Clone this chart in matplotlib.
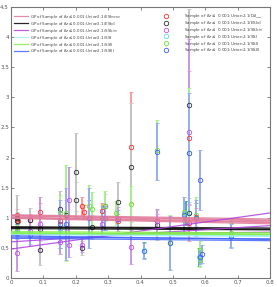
import numpy as np
import matplotlib
matplotlib.use('Agg')
import matplotlib.pyplot as plt

# ---- data ----
z_red = [0.018, 0.02, 0.022, 0.06, 0.09, 0.15, 0.22, 0.225, 0.28, 0.33, 0.37, 0.45, 0.55, 0.55, 0.57]
v_red = [1.05, 0.98, 0.95, 0.96, 1.1, 0.95, 1.2, 1.1, 1.12, 0.95, 2.17, 0.95, 2.33, 0.92, 1.02]
e_red = [0.1, 0.08, 0.1, 0.1, 0.15, 0.12, 0.15, 0.12, 0.12, 0.12, 0.92, 0.12, 1.1, 0.3, 0.15]

z_blk = [0.018, 0.02, 0.06, 0.09, 0.09, 0.15, 0.17, 0.2, 0.2, 0.22, 0.25, 0.29, 0.33, 0.37, 0.45, 0.55, 0.55]
v_blk = [1.0, 0.95, 0.97, 0.82, 0.47, 1.15, 1.05, 1.76, 1.3, 0.5, 0.85, 1.2, 1.27, 1.85, 0.88, 2.87, 1.08]
e_blk = [0.38, 0.15, 0.2, 0.2, 0.25, 0.3, 0.25, 0.65, 0.3, 0.12, 0.2, 0.2, 0.33, 1.05, 0.25, 1.6, 0.25]

z_pur = [0.02, 0.06, 0.09, 0.15, 0.18, 0.18, 0.22, 0.28, 0.33, 0.37, 0.45, 0.55]
v_pur = [0.42, 0.78, 0.9, 0.6, 1.3, 0.55, 0.55, 0.9, 0.98, 0.52, 0.95, 2.42]
e_pur = [0.3, 0.25, 0.45, 0.2, 0.55, 0.2, 0.12, 0.2, 0.2, 0.28, 0.2, 1.55]

z_cyn = [0.02, 0.15, 0.24, 0.29, 0.41, 0.54, 0.57, 0.58, 0.68]
v_cyn = [0.8, 0.8, 1.0, 1.0, 0.47, 1.08, 1.0, 0.35, 0.72]
e_cyn = [0.1, 0.3, 0.3, 0.2, 0.13, 0.2, 0.25, 0.15, 0.2]

z_grn = [0.02, 0.15, 0.17, 0.24, 0.25, 0.29, 0.325, 0.37, 0.45, 0.49, 0.535, 0.55, 0.57, 0.585, 0.585, 0.68]
v_grn = [0.78, 1.08, 1.08, 1.2, 1.15, 1.2, 1.08, 1.23, 2.13, 0.6, 1.1, 2.08, 1.05, 0.47, 0.3, 0.74]
e_grn = [0.1, 0.3, 0.8, 0.35, 0.28, 0.25, 0.2, 0.3, 0.5, 0.45, 0.25, 1.07, 0.3, 0.15, 0.12, 0.22]

z_blu = [0.02, 0.06, 0.15, 0.17, 0.24, 0.28, 0.29, 0.33, 0.41, 0.45, 0.49, 0.535, 0.55, 0.57, 0.585, 0.585, 0.59, 0.68]
v_blu = [0.75, 0.72, 0.9, 0.9, 1.0, 1.0, 1.0, 0.98, 0.45, 2.1, 0.58, 1.05, 2.07, 1.0, 1.63, 0.35, 0.4, 0.7]
e_blu = [0.1, 0.15, 0.4, 0.6, 0.5, 0.2, 0.2, 0.15, 0.13, 0.48, 0.45, 0.3, 1.0, 0.3, 0.5, 0.12, 0.15, 0.2]

# GP sample lines: value at z=0 and at z=0.8
gp_x = [0.0, 0.8]
gp_red = [(1.05, 0.98), (1.03, 0.95), (1.01, 0.93), (0.99, 0.9), (1.04, 0.96), (1.0, 0.92)]
gp_blk = [(0.85, 0.83), (0.82, 0.80), (0.84, 0.81)]
gp_pur = [(0.48, 1.08), (0.6, 0.87), (0.72, 0.76)]
gp_cyn = [(0.73, 0.70), (0.75, 0.71), (0.72, 0.69)]
gp_grn = [(0.77, 0.75), (0.75, 0.73), (0.74, 0.72)]
gp_blu = [(0.68, 0.65), (0.66, 0.62), (0.70, 0.64)]

lbl_gp = ['GP of Sample of $\\delta z \\leq$0.001:Union2.1/ESI$_{mean}$',
          'GP of Sample of $\\delta z \\leq$0.001:Union2.1/ESI$_{all}$',
          'GP of Sample of $\\delta z \\leq$0.001:Union2.1/SSI$_{sim}$',
          'GP of Sample of $\\delta z \\leq$0.001:Union2.1/SSI',
          'GP of Sample of $\\delta z \\leq$0.001:Union2.1/SSII',
          'GP of Sample of $\\delta z \\leq$0.001:Union2.1/SSIII']
lbl_pts = ['Sample of $\\delta z \\leq$ 0.001:Union2.1/D$_{A_{mean}}$',
           'Sample of $\\delta z \\leq$ 0.001:Union2.1/ESI$_{all}$',
           'Sample of $\\delta z \\leq$ 0.001:Union2.1/SSI$_{sim}$',
           'Sample of $\\delta z \\leq$ 0.001:Union2.1/SSI',
           'Sample of $\\delta z \\leq$ 0.001:Union2.1/SSII',
           'Sample of $\\delta z \\leq$ 0.001:Union2.1/SSIII']

series = [(z_red, v_red, e_red, gp_red, '#ff3030', '#ff9a9a', '#e07898'),
          (z_blk, v_blk, e_blk, gp_blk, '#303030', '#c4c4c4', '#000000'),
          (z_pur, v_pur, e_pur, gp_pur, '#c050f0', '#c898e8', '#b040e0'),
          (z_cyn, v_cyn, e_cyn, gp_cyn, '#60e0e0', '#50a8b8', '#a0f0f0'),
          (z_grn, v_grn, e_grn, gp_grn, '#70e030', '#a8f090', '#80f040'),
          (z_blu, v_blu, e_blu, gp_blu, '#4060ff', '#98aef0', '#4060ff')]

plt.rcParams['font.family'] = 'DejaVu Sans'
plt.rcParams['mathtext.fontset'] = 'dejavusans'
fig = plt.figure(figsize=(2.77, 2.87), dpi=100)
ax = fig.add_axes([11/277, 9/287, 259/277, 271/287])

line_handles = []
pt_handles = []
for (z, v, e, gp, mc, ec, lc), lg, lp in zip(series, lbl_gp, lbl_pts):
    ax.errorbar(z, v, yerr=e, fmt='none', ecolor=ec, elinewidth=1.4, capsize=1.5, capthick=0.6, zorder=2)
    h, = ax.plot(z, v, 'o', mfc='none', mec=mc, ms=3.2, mew=0.6, zorder=3, label=lp)
    pt_handles.append(h)
    for k, (y0, y1) in enumerate(gp):
        l, = ax.plot(gp_x, [y0, y1], '-', color=lc, lw=0.9, alpha=0.85, zorder=4, label=lg if k == 0 else None)
        if k == 0:
            line_handles.append(l)

ax.set_xlim(0, 0.8)
ax.set_ylim(0, 4.5)
ax.set_xticks(np.arange(0, 0.81, 0.1))
ax.set_xticklabels(['0', '0.1', '0.2', '0.3', '0.4', '0.5', '0.6', '0.7', '0.8'])
ax.set_yticks(np.arange(0, 4.51, 0.5))
ax.set_yticklabels(['0', '0.5', '1', '1.5', '2', '2.5', '3', '3.5', '4', '4.5'])
ax.tick_params(direction='in', length=2, width=0.5, labelsize=4, pad=1.5, colors='#555555',
               top=True, right=True)
for s in ax.spines.values():
    s.set_color('#777777')
    s.set_linewidth(0.8)

leg1 = ax.legend(handles=line_handles, loc='upper left', bbox_to_anchor=(0.0, 0.99), frameon=False,
                 fontsize=2.9, handlelength=3.6, handletextpad=0.5, labelspacing=-0.25, borderaxespad=0.3,
                 labelcolor='#444444')
ax.add_artist(leg1)
ax.legend(handles=pt_handles, loc='upper right', bbox_to_anchor=(0.985, 0.99), frameon=False,
          fontsize=3.0, handlelength=1.5, handletextpad=3.6, labelspacing=-0.3, borderaxespad=0.3,
          labelcolor='#444444')

fig.savefig('out.png', dpi=100)
